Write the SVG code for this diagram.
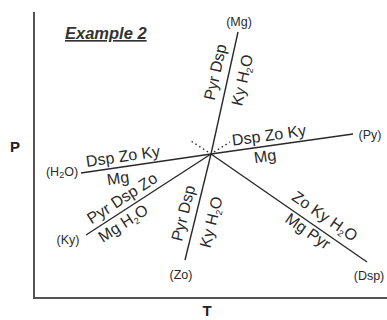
<svg xmlns="http://www.w3.org/2000/svg" width="387" height="320" viewBox="0 0 387 320">
<style>
.axis{stroke:#555;stroke-width:2;fill:none}
.ln{stroke:#2a2a2a;stroke-width:1.4;fill:none}
.dot{stroke:#2a2a2a;stroke-width:1.4;stroke-dasharray:1.5 3;fill:none}
.lbl{font-family:"Liberation Sans",Arial,sans-serif;font-size:16px;fill:#2a2a2a;text-anchor:middle}
.ph{font-family:"Liberation Sans",Arial,sans-serif;font-size:12.5px;fill:#2a2a2a;text-anchor:middle}
.ax{font-family:"Liberation Sans",Arial,sans-serif;font-size:15px;font-weight:bold;fill:#222;text-anchor:middle}
.sub{font-size:9px}
</style>
<rect width="387" height="320" fill="#fff"/>
<g id="axes">
<path class="axis" d="M34,12 V298 H387"/>
<text class="ax" x="15" y="152">P</text>
<text class="ax" x="207" y="316">T</text>
<text id="title" x="65" y="39" style="font-family:'Liberation Sans',Arial,sans-serif;font-size:16.5px;font-weight:bold;font-style:italic;fill:#333;text-decoration:underline">Example 2</text>
</g>
<g id="connectors">
<line class="ln" x1="211" y1="154" x2="238" y2="32"/>
<line class="ln" x1="211" y1="154" x2="353" y2="134"/>
<line class="ln" x1="211" y1="154" x2="81" y2="173"/>
<line class="ln" x1="211" y1="154" x2="86" y2="235"/>
<line class="ln" x1="211" y1="154" x2="185" y2="260"/>
<line class="ln" x1="211" y1="154" x2="367" y2="262"/>
<line class="dot" x1="208" y1="152" x2="191" y2="141"/>
<line class="dot" x1="214" y1="152" x2="230" y2="142"/>
</g>
<g id="node-Mg">
<text class="ph" x="239" y="25.5">(Mg)</text>
<text class="lbl" transform="translate(215,72) rotate(-77.5)" y="5.7">Pyr Dsp</text>
<text class="lbl" transform="translate(242,80) rotate(-77.5)" y="5.7">Ky H<tspan class="sub" dy="3">2</tspan><tspan dy="-3">O</tspan></text>
</g>
<g id="node-Py">
<text class="ph" x="370" y="138.5">(Py)</text>
<text class="lbl" transform="translate(269,135) rotate(-8)" y="5.7">Dsp Zo Ky</text>
<text class="lbl" transform="translate(265,156) rotate(-8)" y="5.7">Mg</text>
</g>
<g id="node-H2O">
<text class="ph" x="62" y="175.5">(H<tspan class="sub" dy="2">2</tspan><tspan dy="-2">O)</tspan></text>
<text class="lbl" transform="translate(123,156) rotate(-8.3)" y="5.7">Dsp Zo Ky</text>
<text class="lbl" transform="translate(118,178) rotate(-8.3)" y="5.7">Mg</text>
</g>
<g id="node-Ky">
<text class="ph" x="68" y="243.5">(Ky)</text>
<text class="lbl" transform="translate(122,198) rotate(-33)" y="5.7">Pyr Dsp Zo</text>
<text class="lbl" transform="translate(123,223) rotate(-33)" y="5.7">Mg H<tspan class="sub" dy="3">2</tspan><tspan dy="-3">O</tspan></text>
</g>
<g id="node-Zo">
<text class="ph" x="181" y="278.5">(Zo)</text>
<text class="lbl" transform="translate(183,213) rotate(-76)" y="5.7">Pyr Dsp</text>
<text class="lbl" transform="translate(211,222) rotate(-76)" y="5.7">Ky H<tspan class="sub" dy="3">2</tspan><tspan dy="-3">O</tspan></text>
</g>
<g id="node-Dsp">
<text class="ph" x="369" y="279.5">(Dsp)</text>
<text class="lbl" transform="translate(325,216) rotate(34.7)" y="5.7">Zo Ky H<tspan class="sub" dy="3">2</tspan><tspan dy="-3">O</tspan></text>
<text class="lbl" transform="translate(308,231) rotate(34.7)" y="5.7">Mg Pyr</text>
</g>
</svg>
